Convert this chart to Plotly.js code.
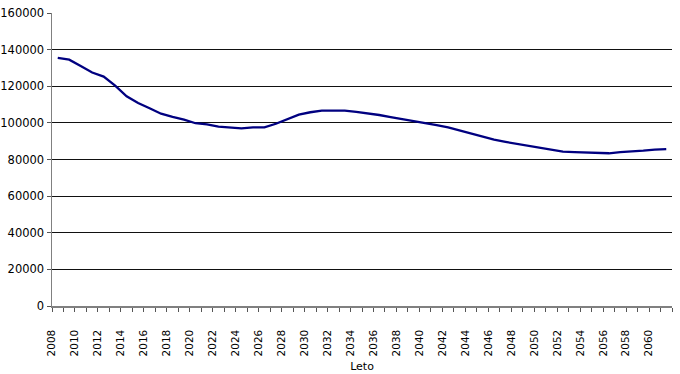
<!DOCTYPE html>
<html>
<head>
<meta charset="utf-8">
<script src="https://cdn.plot.ly/plotly-3.0.1.min.js"></script>
<style>html,body{margin:0;padding:0;background:#fff;}#chart{width:680px;height:374px;}</style>
</head>
<body>
<div id="chart"></div>
<script>
var years = [2008,2009,2010,2011,2012,2013,2014,2015,2016,2017,2018,2019,2020,2021,2022,2023,2024,2025,2026,2027,2028,2029,2030,2031,2032,2033,2034,2035,2036,2037,2038,2039,2040,2041,2042,2043,2044,2045,2046,2047,2048,2049,2050,2051,2052,2053,2054,2055,2056,2057,2058,2059,2060,2061];
var population = [135500,134500,131000,127500,125300,120300,114500,110800,108000,105000,103300,101800,99800,99200,98000,97500,97000,97500,97500,99500,102000,104500,105800,106700,106700,106700,106000,105300,104300,103200,102200,101000,100200,98800,97500,95800,94200,92500,90800,89600,88500,87400,86300,85200,84300,84000,83900,83400,83400,84000,84200,84800,85400,85700];
var tickLabels = ['2008','2010','2012','2014','2016','2018','2020','2022','2024','2026','2028','2030','2032','2034','2036','2038','2040','2042','2044','2046','2048','2050','2052','2054','2056','2058','2060'];
var xTitle = 'Leto';

// category boundaries (Excel-style: labels drawn at the left boundary of each category)
var tv = [], tt = [];
for (var i = 0; i <= years.length; i++) {
  var b = years[0] - 0.5 + i;
  tv.push(b);
  var lbl = String(b + 0.5);
  tt.push(tickLabels.indexOf(lbl) >= 0 ? lbl : '');
}

var fam = 'DejaVu Sans, sans-serif';

Plotly.newPlot('chart', [{
  x: years, y: population, type: 'scatter', mode: 'lines',
  line: {color: '#000080', width: 2.3}, hoverinfo: 'none'
}], {
  width: 680, height: 374,
  margin: {l: 52, r: 8, t: 13, b: 68},
  paper_bgcolor: '#fff', plot_bgcolor: '#fff',
  showlegend: false,
  font: {family: fam, size: 11, color: '#000'},
  xaxis: {
    range: [years[0] - 0.5, years[years.length - 1] + 0.5],
    tickmode: 'array', tickvals: tv, ticktext: tt,
    tickangle: -90, ticks: 'outside', ticklen: 4, tickcolor: '#555', tickwidth: 1,
    ticklabelstandoff: 14,
    showgrid: false, zeroline: false,
    showline: true, linecolor: '#808080', linewidth: 1.5,
    tickfont: {family: fam, size: 10.5, color: '#000'},
    title: {text: xTitle, font: {family: fam, size: 11, color: '#000'}, standoff: 7},
    fixedrange: true
  },
  yaxis: {
    range: [0, 160000], dtick: 20000, tick0: 0,
    ticks: 'outside', ticklen: 4, tickcolor: '#555', tickwidth: 1,
    showgrid: true, gridcolor: '#111', gridwidth: 1,
    zeroline: false, showline: true, linecolor: '#808080', linewidth: 1.5,
    tickformat: 'd',
    tickfont: {family: fam, size: 11.5, color: '#000'},
    fixedrange: true
  }
}, {displayModeBar: false, staticPlot: true});
</script>
</body>
</html>
